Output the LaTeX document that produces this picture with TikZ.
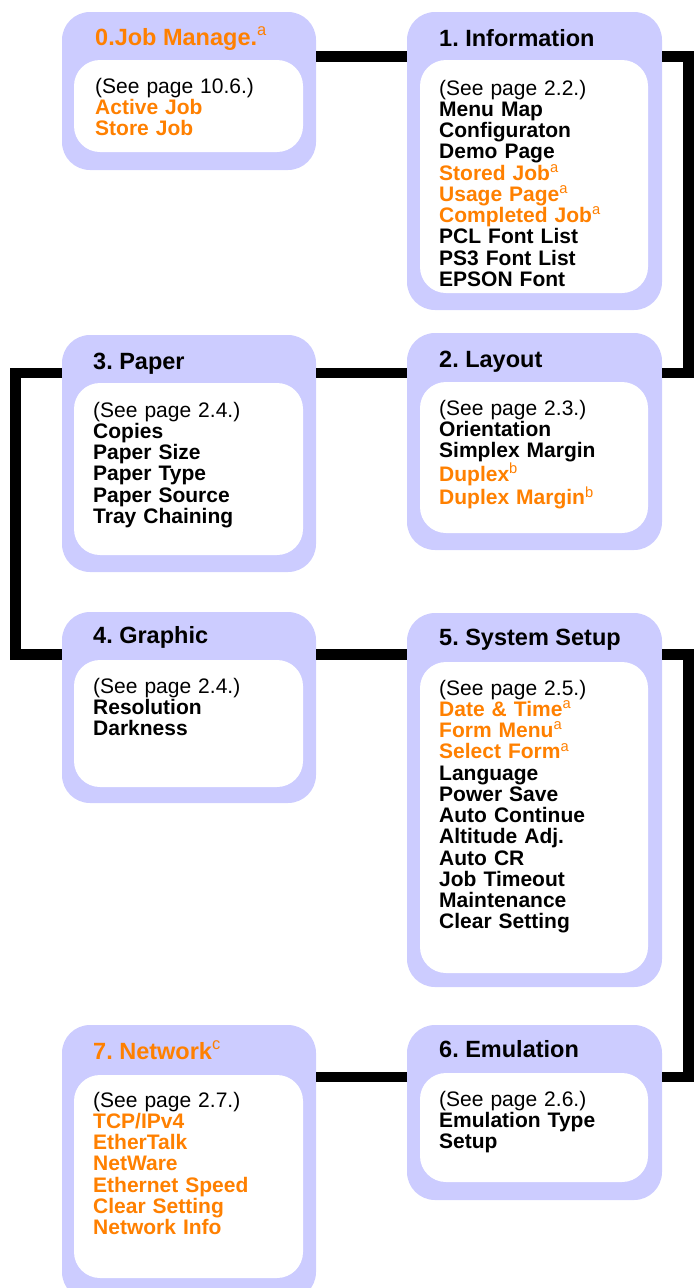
\documentclass[tikz,border=0pt]{standalone}
\usepackage{fontspec}
\setmainfont{Liberation Sans}
\frenchspacing

\definecolor{menublue}{RGB}{204,204,255}
\definecolor{menuorange}{RGB}{255,128,0}
\newcommand{\orng}[1]{\textcolor{menuorange}{#1}}
\newcommand{\fnmark}[1]{\textsuperscript{\mdseries #1}}

\tikzstyle{menubox}=[fill=menublue,rounded corners=28pt,anchor=north west,inner sep=0pt,outer sep=0pt]
\tikzstyle{listbox}=[fill=white,rounded corners=26pt,anchor=north west,inner sep=0pt,outer sep=0pt]
\tikzstyle{menutitle}=[anchor=base west,inner sep=0pt,font=\fontsize{23.5}{26}\selectfont\bfseries]
\tikzstyle{menuitems}=[anchor=base west,inner sep=0pt,text width=200pt,align=left,font=\fontsize{21}{21.25}\selectfont\bfseries]
\tikzstyle{link}=[line width=10.5pt]

\begin{document}
\begin{tikzpicture}[x=1pt,y=-1pt]
  \useasboundingbox (0,0) rectangle (694,1288);

  % 0. Job Manage.
  \node[menubox,minimum width=254pt,minimum height=158pt] (job) at (62,12) {};
  \node[listbox,minimum width=229pt,minimum height=92pt] (job-list) at (74,60) {};
  \node[menutitle] (job-title) at (95,45) {\orng{0.Job Manage.\fnmark{a}}};
  \node[menuitems] (job-items) at (95,93) {{\mdseries (See page 10.6.)}\\
    \orng{Active Job}\\
    \orng{Store Job}};

  % 1. Information
  \node[menubox,minimum width=255pt,minimum height=298pt] (info) at (407,12) {};
  \node[listbox,minimum width=228pt,minimum height=233pt] (info-list) at (420,60) {};
  \node[menutitle] (info-title) at (439,46) {1. Information};
  \node[menuitems] (info-items) at (439,95) {{\mdseries (See page 2.2.)}\\
    Menu Map\\
    Configuraton\\
    Demo Page\\
    \orng{Stored Job\fnmark{a}}\\
    \orng{Usage Page\fnmark{a}}\\
    \orng{Completed Job\fnmark{a}}\\
    PCL Font List\\
    PS3 Font List\\
    EPSON Font};

  % 2. Layout
  \node[menubox,minimum width=255pt,minimum height=217pt] (layout) at (407,333) {};
  \node[listbox,minimum width=228pt,minimum height=151pt] (layout-list) at (420,382) {};
  \node[menutitle] (layout-title) at (439,367) {2. Layout};
  \node[menuitems] (layout-items) at (439,415) {{\mdseries (See page 2.3.)}\\
    Orientation\\
    Simplex Margin\\
    \orng{Duplex\fnmark{b}}\\
    \orng{Duplex Margin\fnmark{b}}};

  % 3. Paper
  \node[menubox,minimum width=254pt,minimum height=237pt] (paper) at (62,335) {};
  \node[listbox,minimum width=229pt,minimum height=172pt] (paper-list) at (74,383) {};
  \node[menutitle] (paper-title) at (93,369) {3. Paper};
  \node[menuitems] (paper-items) at (93,417) {{\mdseries (See page 2.4.)}\\
    Copies\\
    Paper Size\\
    Paper Type\\
    Paper Source\\
    Tray Chaining};

  % 4. Graphic
  \node[menubox,minimum width=254pt,minimum height=191pt] (graphic) at (62,612) {};
  \node[listbox,minimum width=229pt,minimum height=127pt] (graphic-list) at (74,660) {};
  \node[menutitle] (graphic-title) at (93,643) {4. Graphic};
  \node[menuitems] (graphic-items) at (93,693) {{\mdseries (See page 2.4.)}\\
    Resolution\\
    Darkness};

  % 5. System Setup
  \node[menubox,minimum width=255pt,minimum height=374pt] (setup) at (407,613) {};
  \node[listbox,minimum width=228pt,minimum height=311pt] (setup-list) at (420,662) {};
  \node[menutitle] (setup-title) at (439,645) {5. System Setup};
  \node[menuitems] (setup-items) at (439,695) {{\mdseries (See page 2.5.)}\\
    \orng{Date \& Time\fnmark{a}}\\
    \orng{Form Menu\fnmark{a}}\\
    \orng{Select Form\fnmark{a}}\\
    Language\\
    Power Save\\
    Auto Continue\\
    Altitude Adj.\\
    Auto CR\\
    Job Timeout\\
    Maintenance\\
    Clear Setting};

  % 6. Emulation
  \node[menubox,minimum width=255pt,minimum height=175pt] (emul) at (407,1025) {};
  \node[listbox,minimum width=228pt,minimum height=109pt] (emul-list) at (420,1073) {};
  \node[menutitle] (emul-title) at (439,1057) {6. Emulation};
  \node[menuitems] (emul-items) at (439,1106) {{\mdseries (See page 2.6.)}\\
    Emulation Type\\
    Setup};

  % 7. Network
  \node[menubox,minimum width=254pt,minimum height=275pt] (network) at (62,1025) {};
  \node[listbox,minimum width=229pt,minimum height=203pt] (network-list) at (74,1075) {};
  \node[menutitle] (network-title) at (93,1059) {\orng{7. Network\fnmark{c}}};
  \node[menuitems] (network-items) at (93,1107) {{\mdseries (See page 2.7.)}\\
    \orng{TCP/IPv4}\\
    \orng{EtherTalk}\\
    \orng{NetWare}\\
    \orng{Ethernet Speed}\\
    \orng{Clear Setting}\\
    \orng{Network Info}};

  % connectors
  \coordinate (bend1) at (688.5,56.5);
  \coordinate (bend2) at (688.5,373);
  \coordinate (bend3) at (15.5,373);
  \coordinate (bend4) at (15.5,654.5);
  \coordinate (bend5) at (688.5,654.5);
  \coordinate (bend6) at (688.5,1077);
  \draw[link] (job.east |- bend1) -- (info.west |- bend1);
  \draw[link] (info.east |- bend1) -- (bend1) -- (bend2) -- (layout.east |- bend2);
  \draw[link] (layout.west |- bend2) -- (paper.east |- bend2);
  \draw[link] (paper.west |- bend3) -- (bend3) -- (bend4) -- (graphic.west |- bend4);
  \draw[link] (graphic.east |- bend4) -- (setup.west |- bend4);
  \draw[link] (setup.east |- bend5) -- (bend5) -- (bend6) -- (emul.east |- bend6);
  \draw[link] (emul.west |- bend6) -- (network.east |- bend6);
\end{tikzpicture}
\end{document}
